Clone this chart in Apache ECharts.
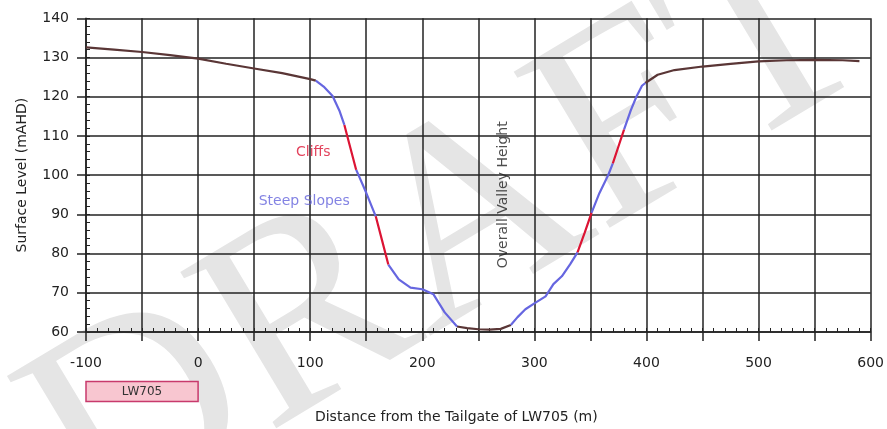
<!DOCTYPE html>
<html>
<head>
<meta charset="utf-8">
<script src="https://cdn.jsdelivr.net/npm/echarts@6/dist/echarts.min.js"></script>
<style>
html,body{margin:0;padding:0;background:#fff;}
#chart{width:887px;height:429px;}
</style>
</head>
<body>
<div id="chart"></div>
<script>
// ---- data ----
const distance = [-100,-75,-50,-25,0,25,50,75,100,105,112,120,126,130.5,136,141,150,158.5,164,169.7,179,189.5,200,210,220,231,240,250,260,270,279,285,292,300,310,317,324.5,332,338.5,345,351,358,366,370,375,380,386,391,396,399,410,425,450,475,500,525,550,575,590];
const level = [132.6,132.0,131.4,130.6,129.7,128.4,127.2,126.0,124.5,124.1,122.6,120.2,116.5,112.8,106.8,101.4,95.5,89.5,83.5,77.2,73.4,71.3,70.9,69.6,65.0,61.4,61.0,60.7,60.6,60.8,61.8,63.8,65.8,67.3,69.1,72.2,74.2,77.3,80.3,85.4,90.4,95.4,100.1,103.0,107.3,111.6,116.5,120.0,122.8,123.5,125.6,126.8,127.7,128.4,129.0,129.3,129.4,129.3,129.1];
// class of each segment between consecutive points: G ground, S steep slope, C cliff
const zone = [
'G','G','G','G','G','G','G','G','G',
'S','S','S','S',
'C','C',
'S','S',
'C','C',
'S','S','S','S','S','S',
'G','G','G','G','G',
'S','S','S','S','S','S','S','S',
'C','C',
'S','S','S',
'C','C',
'S','S','S','S',
'G','G','G','G','G','G','G','G','G'];
const annoText = ['Cliffs','Steep Slopes','Overall Valley Height'];
const annoX = [102.7, 94.7, 272.5];
const annoY = [105.8, 93.3, 95.0];
const panelName = 'LW705';
const panelExtent = [-100, 0];
const xMin = -100, xMax = 600, yMin = 60, yMax = 140;

// ---- build ----
function segData(code) {
  const out = [];
  for (let i = 0; i < zone.length; i++) {
    if (zone[i] === code) {
      if (!out.length || out[out.length - 1][1] === '-') out.push([distance[i], level[i]]);
      out.push([distance[i + 1], level[i + 1]]);
    } else if (out.length && out[out.length - 1][1] !== '-') {
      out.push([distance[i], '-']);
    }
  }
  return out;
}
const FONT = 'DejaVu Sans';
const INK = '#222';
const annoColors = ['#dc1434', '#6464dc', '#222'];
const annoRot = [0, 0, 90];

const chart = echarts.init(document.getElementById('chart'), null, {renderer: 'canvas'});
const lineSeries = (code, color, z) => ({
  type: 'line', data: segData(code), symbol: 'none', smooth: false, connectNulls: false,
  lineStyle: {color: color, width: 2.2}, z: z, silent: true, animation: false
});
chart.setOption({
  animation: false,
  textStyle: {fontFamily: FONT},
  graphic: {elements: [{
    type: 'text', z: -100, silent: true,
    x: 450, y: 238, rotation: 31 * Math.PI / 180,
    style: {text: 'DRAFT', font: '280px "Liberation Serif"', fill: '#e5e5e5', align: 'center', verticalAlign: 'middle'}
  }]},
  grid: {left: 86, right: 13.7, top: 18.3, bottom: 96.3, containLabel: false},
  xAxis: [{
    type: 'value', min: xMin, max: xMax, interval: 50, position: 'bottom',
    name: 'Distance from the Tailgate of LW705 (m)', nameLocation: 'middle', nameGap: 78,
    nameTextStyle: {color: INK, fontSize: 14, fontFamily: FONT, padding: [0, 44, 0, 0]},
    axisLine: {onZero: false, lineStyle: {color: INK, width: 1.5}},
    axisTick: {show: true, length: 9, lineStyle: {color: INK, width: 1.5}},
    axisLabel: {color: INK, fontSize: 14, fontFamily: FONT, margin: 24,
      formatter: v => (v % 100 === 0 ? String(v) : '')},
    splitLine: {show: true, lineStyle: {color: INK, width: 1.5}}
  }, {
    type: 'value', min: xMin, max: xMax, interval: 10, position: 'bottom',
    axisLine: {show: false, onZero: false},
    axisTick: {show: true, inside: true, length: 4, lineStyle: {color: INK, width: 1}},
    axisLabel: {show: false}, splitLine: {show: false}
  }],
  yAxis: [{
    type: 'value', min: yMin, max: yMax, interval: 10, position: 'left',
    name: 'Surface Level (mAHD)', nameLocation: 'middle', nameGap: 57,
    nameTextStyle: {color: INK, fontSize: 14, fontFamily: FONT},
    axisLine: {onZero: false, lineStyle: {color: INK, width: 1.5}},
    axisTick: {show: true, length: 9, lineStyle: {color: INK, width: 1.5}},
    axisLabel: {color: INK, fontSize: 14, fontFamily: FONT, margin: 17},
    splitLine: {show: true, lineStyle: {color: INK, width: 1.5}}
  }, {
    type: 'value', min: yMin, max: yMax, interval: 2, position: 'left',
    axisLine: {show: false, onZero: false},
    axisTick: {show: true, inside: true, length: 4, lineStyle: {color: INK, width: 1}},
    axisLabel: {show: false}, splitLine: {show: false}
  }],
  series: [
    lineSeries('G', '#5a3636', 5),
    lineSeries('S', '#6666e0', 5),
    lineSeries('C', '#dc1434', 5),
    {
      type: 'scatter', symbolSize: 0, silent: true, z: 6,
      data: annoText.map((t, i) => ({
        name: t, value: [annoX[i], annoY[i]],
        label: {show: true, position: 'inside', formatter: '{b}', color: annoColors[i],
          fontSize: 14, fontFamily: FONT, rotate: annoRot[i]}
      }))
    },
    {
      type: 'custom', clip: false, silent: true, z: 6,
      encode: {x: [0, 1]},
      data: [[panelExtent[0], panelExtent[1]]],
      renderItem: function (params, api) {
        const a = api.coord([api.value(0), yMin]);
        const b = api.coord([api.value(1), yMin]);
        return {type: 'group', children: [
          {type: 'rect', shape: {x: a[0], y: a[1] + 49.5, width: b[0] - a[0], height: 20},
            style: {fill: '#f8c6d0', stroke: '#c83a6c', lineWidth: 1.5}},
          {type: 'text', style: {text: panelName, x: (a[0] + b[0]) / 2, y: a[1] + 59.5,
            align: 'center', verticalAlign: 'middle', fill: '#333', font: '12px "DejaVu Sans"'}}
        ]};
      }
    }
  ]
});
</script>
</body>
</html>
